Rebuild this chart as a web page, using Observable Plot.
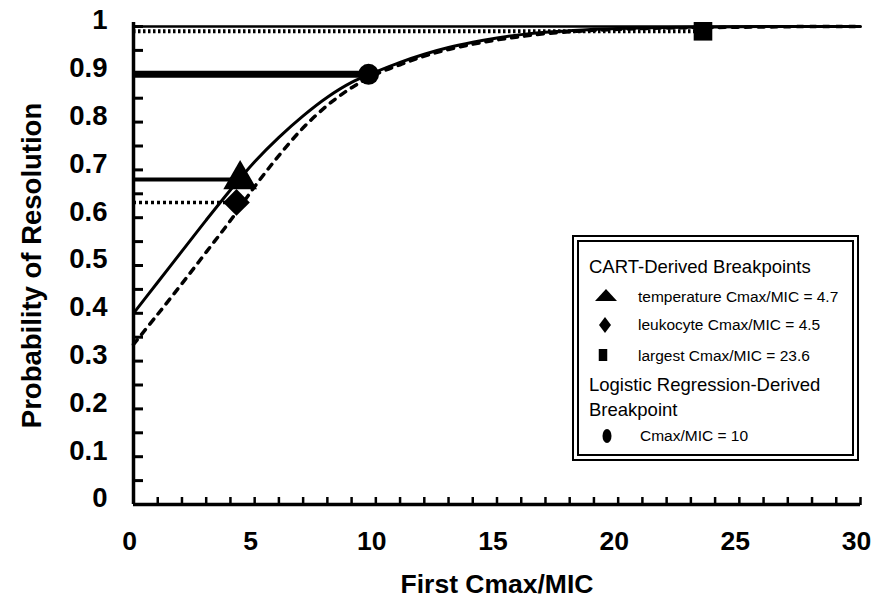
<!DOCTYPE html>
<html>
<head>
<meta charset="utf-8">
<script src="https://cdn.jsdelivr.net/npm/d3@7"></script>
<script src="https://cdn.jsdelivr.net/npm/@observablehq/plot@0.6"></script>
<style>
  body { margin: 0; background: #fff; }
  #wrap { position: relative; width: 871px; height: 600px; font-family: "Liberation Sans", Arial, sans-serif; color: #000; }
  #legendBox { position: absolute; left: 572px; top: 235px; width: 287px; height: 226px; box-sizing: border-box; border: 7px double #000; background: #fff; }
  .lg { position: absolute; white-space: nowrap; line-height: 1; transform: translateY(-50%); }
  .hdr { font-size: 18.5px; }
  .ent { font-size: 15.5px; }
  .sym { position: absolute; transform: translate(-50%, -50%); }
</style>
</head>
<body>
<div id="wrap"></div>
<script>
// ---- data ----
const curveX   = [0, 1, 2, 3, 4, 5, 6, 7, 8, 9, 10, 11, 12, 13, 14, 15, 16, 17, 18, 19, 20, 22, 24, 26, 28, 30];
const solidY   = [0.40, 0.465, 0.53, 0.595, 0.658, 0.717, 0.768, 0.813, 0.852, 0.883, 0.905, 0.925, 0.942, 0.956, 0.967, 0.976, 0.983, 0.988, 0.991, 0.994, 0.996, 0.998, 0.999, 1.0, 1.0, 1.0];
const dashedY  = [0.335, 0.398, 0.462, 0.528, 0.594, 0.665, 0.73, 0.788, 0.835, 0.872, 0.9, 0.92, 0.938, 0.952, 0.963, 0.972, 0.979, 0.985, 0.989, 0.992, 0.994, 0.997, 0.998, 0.999, 1.0, 1.0];

// breakpoints: triangle (temperature), diamond (leukocyte), square (largest), circle (logistic)
const bpX = [4.4, 4.25, 23.5, 9.7];
const bpY = [0.68, 0.632, 0.99, 0.9];

const xMajor = [0, 5, 10, 15, 20, 25, 30];
const xMinor = d3.range(1, 31);
const yMajor = [0, 0.1, 0.2, 0.3, 0.4, 0.5, 0.6, 0.7, 0.8, 0.9, 1];
const yTickLabels = ["0", "0.1", "0.2", "0.3", "0.4", "0.5", "0.6", "0.7", "0.8", "0.9", "1"];
const yMinor = d3.range(1, 21).map(i => i / 20);

const xTitle = "First Cmax/MIC";
const yTitle = "Probability of Resolution";
const legendHeaders = ["CART-Derived Breakpoints", "Logistic Regression-Derived", "Breakpoint"];
const legendEntries = ["temperature Cmax/MIC = 4.7", "leukocyte Cmax/MIC = 4.5", "largest Cmax/MIC = 23.6", "Cmax/MIC = 10"];

// ---- tables ----
const solid = curveX.map((x, i) => ({x, y: solidY[i]}));
const dashed = curveX.map((x, i) => ({x, y: dashedY[i]}));
const bp = bpX.map((x, i) => ({x, y: bpY[i]}));

const font = "Liberation Sans, Arial, sans-serif";

const chart = Plot.plot({
  width: 871,
  height: 600,
  marginLeft: 133,
  marginRight: 11,
  marginTop: 26,
  marginBottom: 96,
  style: {fontFamily: font, background: "#fff", color: "#000"},
  x: {domain: [0, 30]},
  y: {domain: [0, 1]},
  marks: [
    // top reference line at 1
    Plot.ruleY([1], {stroke: "#000", strokeWidth: 2.5}),
    // horizontal breakpoint lines
    Plot.ruleY([bp[2]], {y: "y", x1: 0, x2: "x", stroke: "#000", strokeWidth: 4, strokeDasharray: "2.5,2.5"}),
    Plot.ruleY([bp[3]], {y: "y", x1: 0, x2: "x", stroke: "#000", strokeWidth: 7}),
    Plot.ruleY([bp[0]], {y: "y", x1: 0, x2: "x", stroke: "#000", strokeWidth: 4}),
    Plot.ruleY([bp[1]], {y: "y", x1: 0, x2: "x", stroke: "#000", strokeWidth: 3.5, strokeDasharray: "3,3"}),
    // curves
    Plot.line(dashed, {x: "x", y: "y", stroke: "#000", strokeWidth: 3.5, strokeDasharray: "6,7", curve: "catmull-rom"}),
    Plot.line(solid, {x: "x", y: "y", stroke: "#000", strokeWidth: 3, curve: "catmull-rom"}),
    // axis lines
    Plot.ruleX([0], {stroke: "#000", strokeWidth: 3.5, insetTop: -4}),
    Plot.ruleY([0], {stroke: "#000", strokeWidth: 3.5}),
    // inner ticks
    Plot.axisX({anchor: "top", frameAnchor: "bottom", ticks: xMinor, tickSize: 8, strokeWidth: 2.5, fill: "none", label: null}),
    Plot.axisY({anchor: "right", frameAnchor: "left", ticks: yMinor, tickSize: 9, strokeWidth: 3, fill: "none", label: null}),
    // tick labels and titles
    Plot.axisX({ticks: xMajor, tickSize: 0, tickPadding: 27, dx: -4, fontSize: 26.5, fontWeight: "bold",
      label: xTitle, labelAnchor: "center", labelArrow: "none", labelOffset: 88}),
    Plot.axisY({ticks: yMajor, tickFormat: (d, i) => yTickLabels[i], tickSize: 0, tickPadding: 26, dy: -6,
      fontSize: 27.5, fontWeight: "bold", label: yTitle, labelAnchor: "center", labelArrow: "none", labelOffset: 112}),
    // markers
    Plot.dot([bp[0]], {x: "x", y: "y", symbol: "triangle", r: 12.5, fill: "#000", stroke: "none"}),
    Plot.dot([bp[1]], {x: "x", y: "y", symbol: "diamond2", r: 12, fill: "#000", stroke: "none"}),
    Plot.dot([bp[2]], {x: "x", y: "y", symbol: "square", r: 10.5, fill: "#000", stroke: "none"}),
    Plot.dot([bp[3]], {x: "x", y: "y", symbol: "circle", r: 10.5, fill: "#000", stroke: "none"})
  ]
});

const wrap = document.getElementById("wrap");
wrap.appendChild(chart);

// ---- legend overlay ----
const box = document.createElement("div");
box.id = "legendBox";
wrap.appendChild(box);

function addText(txt, cls, left, top) {
  const s = document.createElement("div");
  s.className = "lg " + cls;
  s.textContent = txt;
  s.style.left = left + "px";
  s.style.top = top + "px";
  wrap.appendChild(s);
}
function addSym(svg, left, top) {
  const s = document.createElement("div");
  s.className = "sym";
  s.innerHTML = svg;
  s.style.left = left + "px";
  s.style.top = top + "px";
  wrap.appendChild(s);
}
addText(legendHeaders[0], "hdr", 589, 267);
addText(legendEntries[0], "ent", 638, 297);
addText(legendEntries[1], "ent", 638, 325);
addText(legendEntries[2], "ent", 638, 356);
addText(legendHeaders[1], "hdr", 589, 385);
addText(legendHeaders[2], "hdr", 589, 410);
addText(legendEntries[3], "ent", 640, 436);

addSym('<svg width="24" height="14" style="display:block"><polygon points="12,1 23,13 1,13" fill="#000"/></svg>', 606, 295);
addSym('<svg width="12" height="16" style="display:block"><polygon points="6,0 12,8 6,16 0,8" fill="#000"/></svg>', 605, 325);
addSym('<svg width="9" height="12" style="display:block"><rect x="0" y="0" width="9" height="12" fill="#000"/></svg>', 603, 355);
addSym('<svg width="10" height="14" style="display:block"><ellipse cx="5" cy="7" rx="4.5" ry="7" fill="#000"/></svg>', 607, 436);
</script>
</body>
</html>
